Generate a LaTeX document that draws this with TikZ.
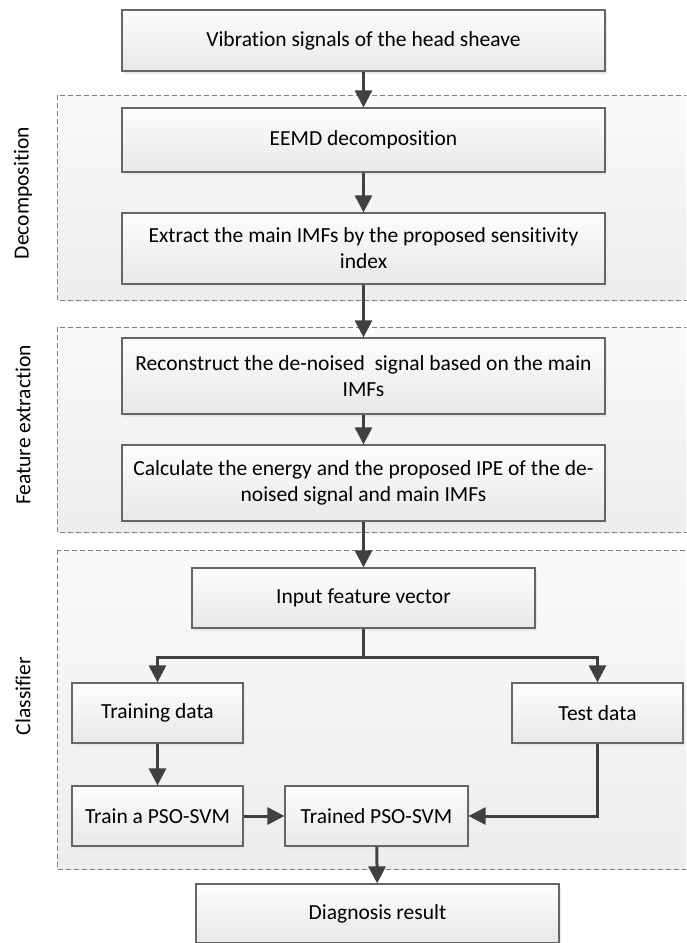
\documentclass[tikz,border=0pt]{standalone}
\usepackage{fontspec}
\setmainfont[Ligatures=NoCommon]{Carlito}
\usetikzlibrary{arrows.meta,shadows}
\definecolor{arrowc}{HTML}{404040}
\definecolor{boxline}{HTML}{666666}
\definecolor{grpline}{HTML}{808080}
\definecolor{boxtop}{HTML}{FDFDFD}
\definecolor{boxbot}{HTML}{E8E8E8}
\definecolor{grptop}{HTML}{FAFAFA}
\definecolor{grpbot}{HTML}{EDEDED}
\tikzset{
  stepbox/.style={draw=boxline, line width=1.2pt, top color=boxtop, bottom color=boxbot,
    inner sep=0pt, align=center, font=\fontsize{21.5pt}{26pt}\selectfont,
    drop shadow={shadow xshift=2pt, shadow yshift=-3pt, fill=black!9, opacity=1}},
  grpbox/.style={draw=grpline, line width=0.9pt, dash pattern=on 5pt off 3pt,
    top color=grptop, bottom color=grpbot},
  grplabel/.style={rotate=90, font=\fontsize{21.5pt}{26pt}\selectfont, inner sep=0pt},
  conn/.style={draw=arrowc, line width=3pt, -{Triangle[length=17pt,width=17pt]}},
  plainconn/.style={draw=arrowc, line width=3pt}
}
\begin{document}
\begin{tikzpicture}[x=1pt,y=-1pt]
\useasboundingbox (0,0) rectangle (686,943);
\clip (0,0) rectangle (686,943);
\fill[white] (0,0) rectangle (686,943);

% groups
\path[grpbox] (57,95) rectangle (692,300);
\path[grpbox] (57,327) rectangle (692,532);
\path[grpbox] (57,550) rectangle (692,869);
\node[grplabel] (lbl1) at (23,193) {Decomposition};
\node[grplabel] (lbl2) at (23,425) {Feature extraction};
\node[grplabel] (lbl3) at (23,696) {Classifier};

% boxes
\node[stepbox, minimum width=483pt, minimum height=61pt] (vib) at (363.5,40.5) {Vibration signals of the head sheave};
\node[stepbox, minimum width=483pt, minimum height=64pt] (eemd) at (363.5,140) {EEMD decomposition};
\node[stepbox, minimum width=483pt, minimum height=71pt] (extr) at (363.5,248.5) {Extract the main IMFs by the proposed sensitivity\\index};
\node[stepbox, minimum width=483pt, minimum height=76pt] (recon) at (363.5,376) {Reconstruct the de-noised\ \ signal based on the main\\IMFs};
\node[stepbox, minimum width=483pt, minimum height=76pt] (calc) at (363.5,483) {Calculate the energy and the proposed IPE of the de-\\noised signal and main IMFs};
\node[stepbox, minimum width=343pt, minimum height=60pt] (input) at (363.5,598) {Input feature vector};
\node[stepbox, minimum width=171pt, minimum height=60pt] (train) at (157.5,713) {Training data};
\node[stepbox, minimum width=171pt, minimum height=60pt] (test) at (597.5,713) {Test data};
\node[stepbox, minimum width=171pt, minimum height=60pt] (trainp) at (157.5,816) {Train a PSO-SVM};
\node[stepbox, minimum width=183pt, minimum height=60pt] (trained) at (376.5,816) {Trained PSO-SVM};
\node[stepbox, minimum width=363pt, minimum height=59pt] (diag) at (377.5,913.5) {Diagnosis result};

\coordinate (br) at (363.5,657);

% connectors
\draw[conn] (vib) -- (eemd);
\draw[conn] (eemd) -- (extr);
\draw[conn] (extr) -- (recon);
\draw[conn] (recon) -- (calc);
\draw[conn] (calc) -- (input);
\draw[plainconn] (input.south) -- (br);
\draw[conn] (br) -| (train.north);
\draw[conn] (br) -| (test.north);
\draw[conn] (train) -- (trainp);
\draw[conn] (trainp) -- (trained);
\draw[conn] (test.south) |- (trained.east);
\draw[conn] (trained) -- (diag);
\end{tikzpicture}
\end{document}
